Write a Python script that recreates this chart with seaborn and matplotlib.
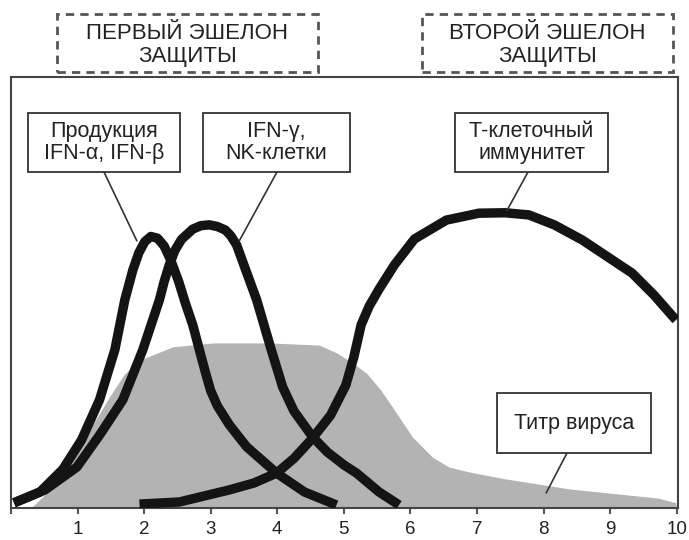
import numpy as np
import pandas as pd
import seaborn as sns
import matplotlib.pyplot as plt
from matplotlib.patches import Rectangle

sns.set_style('white')
plt.rcParams['font.family'] = ['Liberation Sans', 'DejaVu Sans']

# curves (day, relative level)
ifn_ab_x = [0.045, 0.435, 0.78, 1.06, 1.33, 1.56, 1.71, 1.83, 1.92, 2.01, 2.1, 2.2, 2.3, 2.4, 2.52, 2.62, 2.73, 2.83, 2.92, 3.0, 3.1, 3.28, 3.54, 3.99, 4.41, 4.89]
ifn_ab_y = [0.012, 0.037, 0.090, 0.158, 0.251, 0.367, 0.483, 0.552, 0.592, 0.618, 0.630, 0.626, 0.608, 0.575, 0.525, 0.475, 0.425, 0.367, 0.315, 0.272, 0.237, 0.193, 0.142, 0.081, 0.037, 0.007]

ifn_g_x = [0.045, 0.51, 0.99, 1.33, 1.68, 1.98, 2.23, 2.3, 2.38, 2.46, 2.56, 2.73, 2.85, 2.98, 3.1, 3.22, 3.3, 3.39, 3.51, 3.69, 3.91, 4.08, 4.25, 4.53, 4.75, 5.0, 5.19, 5.53, 5.83]
ifn_g_y = [0.012, 0.042, 0.095, 0.169, 0.251, 0.367, 0.483, 0.525, 0.565, 0.597, 0.623, 0.647, 0.655, 0.657, 0.653, 0.645, 0.632, 0.610, 0.559, 0.483, 0.367, 0.281, 0.225, 0.165, 0.13, 0.10, 0.081, 0.037, 0.007]

tcell_x = [1.93, 2.53, 3.28, 3.65, 3.99, 4.25, 4.53, 4.8, 5.03, 5.15, 5.26, 5.38, 5.53, 5.76, 6.06, 6.54, 7.03, 7.42, 7.78, 8.16, 8.58, 9.33, 9.66, 9.99]
tcell_y = [0.009, 0.014, 0.042, 0.058, 0.081, 0.115, 0.162, 0.215, 0.285, 0.35, 0.425, 0.468, 0.508, 0.564, 0.624, 0.668, 0.684, 0.685, 0.680, 0.657, 0.622, 0.545, 0.494, 0.436]

virus_x = [0.3, 0.58, 0.84, 1.15, 1.48, 1.7, 1.93, 2.43, 3.03, 3.88, 4.63, 4.89, 5.1, 5.34, 5.55, 5.73, 6.03, 6.33, 6.58, 6.9, 7.41, 8.40, 9.72, 9.99]
virus_y = [0.0, 0.042, 0.095, 0.174, 0.258, 0.31, 0.343, 0.374, 0.383, 0.383, 0.378, 0.36, 0.34, 0.313, 0.275, 0.234, 0.165, 0.118, 0.095, 0.083, 0.068, 0.044, 0.023, 0.012]

days = list(range(0, 11))
day_labels = [''] + [str(d) for d in days[1:]]

W, H = 689, 540
fig = plt.figure(figsize=(W / 100, H / 100), dpi=100)
ax = fig.add_axes([11 / W, (H - 508) / H, 667 / W, 431 / H])

ax.fill_between(virus_x, virus_y, -0.05, color='#b3b3b3', lw=0, zorder=1)
for xs, ys in [(ifn_ab_x, ifn_ab_y), (ifn_g_x, ifn_g_y), (tcell_x, tcell_y)]:
    sns.lineplot(x=xs, y=ys, ax=ax, color='#141414', lw=6.8, sort=False,
                 solid_capstyle='butt', solid_joinstyle='round', zorder=3)

ax.set_xlim(0, 10.02)
ax.set_ylim(0, 1)
ax.set_xticks(days)
ax.set_xticklabels(day_labels)
ax.set_yticks([])
ax.tick_params(axis='x', direction='out', length=4.5, width=1.5, color='#555',
               labelsize=13.5, labelcolor='#222', pad=5, bottom=True)
for s in ax.spines.values():
    s.set_color('#444')
    s.set_linewidth(1.5)


def px_box(x0, y0, x1, y1, **kw):
    # box given in picture pixels (top-left origin)
    r = Rectangle((x0 / W, 1 - y1 / H), (x1 - x0) / W, (y1 - y0) / H,
                  transform=fig.transFigure, fill=True, facecolor='white', **kw)
    fig.patches.append(r)
    return ((x0 + x1) / 2 / W, 1 - (y0 + y1) / 2 / H)


# dashed header boxes
for (x0, y0, x1, y1), txt in [((57, 14, 318, 72), 'ПЕРВЫЙ ЭШЕЛОН\nЗАЩИТЫ'),
                              ((422, 14, 673, 72), 'ВТОРОЙ ЭШЕЛОН\nЗАЩИТЫ')]:
    cx, cy = px_box(x0, y0, x1, y1, edgecolor='#555', lw=2, ls=(0, (3, 2.2)))
    fig.text(cx, cy - 0.004, txt, ha='center', va='center', fontsize=16, color='#222',
             linespacing=1.1)

# label boxes with leader lines
labels = [((28, 113, 180, 172), 'Продукция\nIFN-α, IFN-β', (104, 172), (1.89, 0.62)),
          ((203, 113, 350, 172), 'IFN-γ,\nNK-клетки', (277, 172), (3.43, 0.62)),
          ((455, 113, 608, 172), 'Т-клеточный\nиммунитет', (528, 172), (7.45, 0.69)),
          ((497, 393, 651, 453), 'Титр вируса', (567, 453), (8.04, 0.035))]
for (x0, y0, x1, y1), txt, (lx, ly), xy in labels:
    cx, cy = px_box(x0, y0, x1, y1, edgecolor='#333', lw=1.3, zorder=5)
    fig.text(cx, cy, txt, ha='center', va='center', fontsize=15.5, color='#222',
             linespacing=1.05, zorder=6)
    ax.annotate('', xy=xy, xycoords='data', xytext=(lx / W, 1 - ly / H),
                textcoords='figure fraction',
                arrowprops=dict(arrowstyle='-', lw=1.2, color='#333',
                                shrinkA=0, shrinkB=0))

fig.savefig('out.png', dpi=100)
